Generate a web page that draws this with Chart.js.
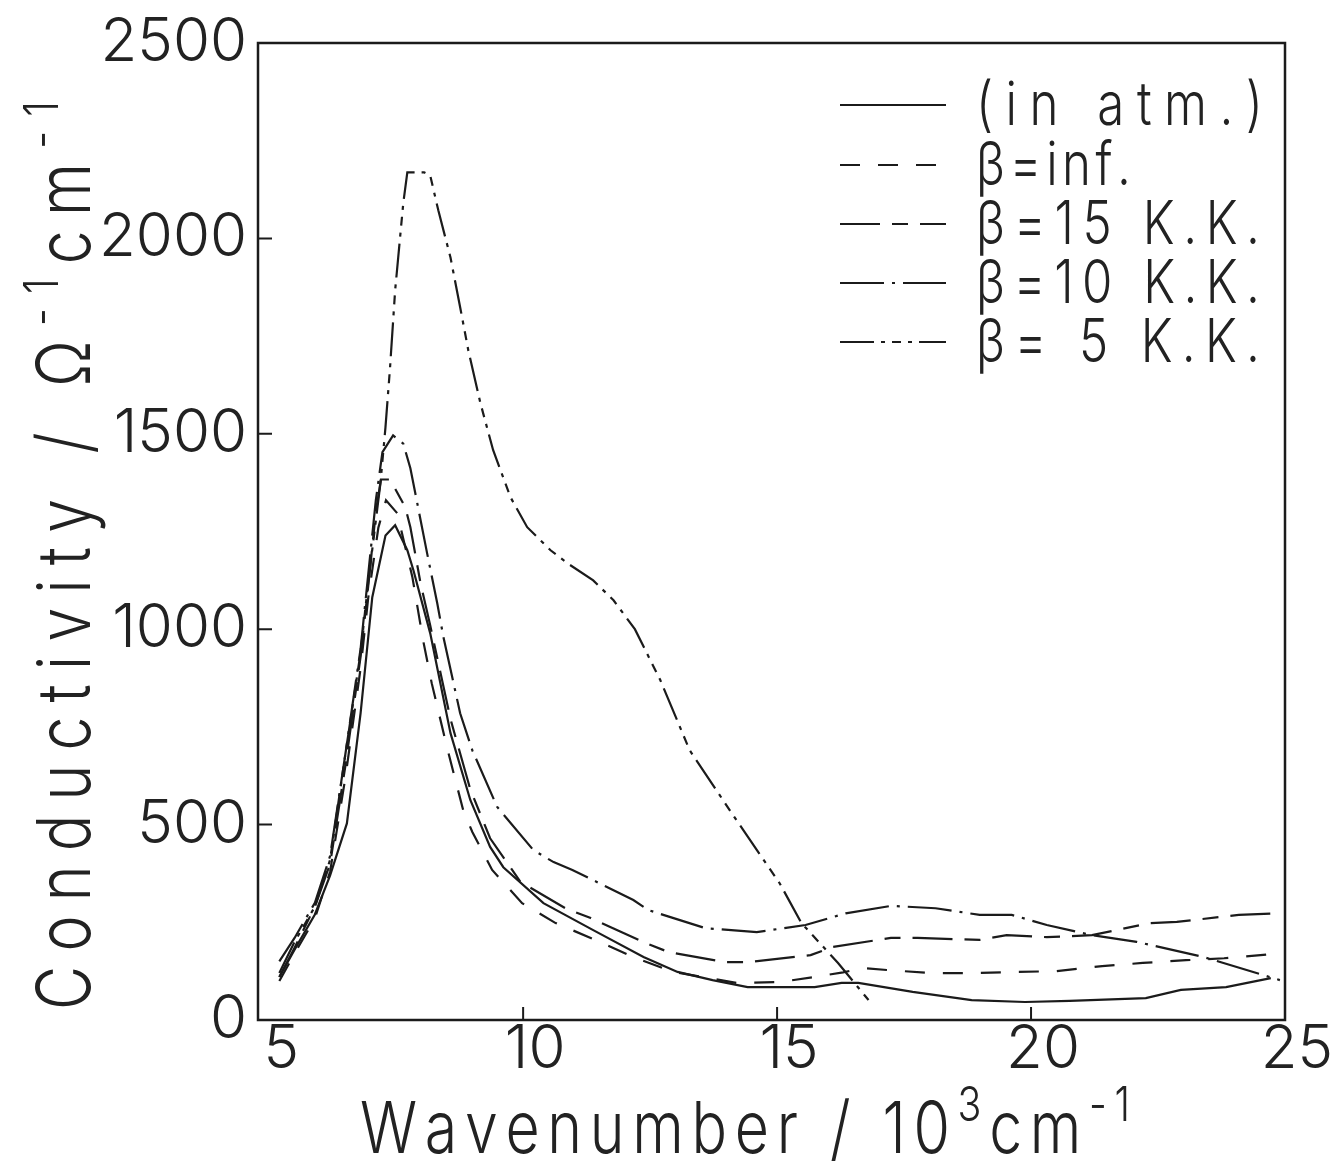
<!DOCTYPE html>
<html>
<head>
<meta charset="utf-8">
<script src="https://cdn.jsdelivr.net/npm/chart.js@4.4.1/dist/chart.umd.min.js"></script>
<style>
  html, body { margin: 0; padding: 0; background: #fff; }
  #chart { display: block; }
</style>
</head>
<body>
<canvas id="chart" width="1332" height="1163"></canvas>
<script>
// axis ticks
const xTicks = [5, 10, 15, 20, 25];
const yTicks = [0, 500, 1000, 1500, 2000, 2500];
const legendLabels = ['(in atm.)', 'β=inf.', 'β=15 K.K.', 'β=10 K.K.', 'β= 5 K.K.'];

// (in atm.) - solid
const atmX = [5.2, 5.5, 5.9, 6.2, 6.53, 6.8, 7.03, 7.29, 7.48, 7.72, 7.84, 8.17, 8.57, 8.96, 9.35, 9.61, 10.4, 11.38, 12.37, 13.04, 13.73, 14.42, 15.74, 16.27, 16.6, 17.67, 18.83, 19.88, 20.76, 22.26, 22.95, 23.84, 24.72];
const atmY = [110, 180, 270, 370, 503, 785, 1082, 1240, 1266, 1202, 1151, 990, 734, 563, 443, 391, 299, 230, 161, 123, 102, 84, 84, 95, 95, 72, 51, 46, 49, 56, 77, 84, 107];

// beta = inf.
const infX = [5.2, 5.5, 5.9, 6.2, 6.5, 6.8, 6.95, 7.15, 7.3, 7.52, 7.82, 8.03, 8.2, 8.5, 8.82, 9.0, 9.39, 9.98, 10.64, 11.42, 12.17, 12.96, 14.2, 15.05, 15.74, 16.3, 16.7, 17.16, 18.02, 18.8, 19.7, 20.5, 21.4, 22.2, 23.05, 23.8, 24.76];
const infY = [100, 170, 260, 380, 620, 900, 1080, 1260, 1330, 1297, 1133, 972, 862, 698, 537, 481, 384, 299, 248, 205, 161, 123, 95, 97, 110, 122, 133, 128, 120, 120, 123, 125, 138, 146, 153, 158, 169];

// beta = 15 K.K.
const b15X = [5.2, 5.5, 5.9, 6.2, 6.5, 6.8, 6.95, 7.1, 7.2, 7.38, 7.68, 7.78, 7.98, 8.17, 8.57, 8.96, 9.35, 9.95, 10.83, 11.33, 12.41, 12.86, 13.98, 14.42, 15.66, 16.1, 17.24, 17.77, 18.99, 19.52, 20.31, 21.2, 22.34, 22.87, 24.09, 24.9];
const b15Y = [110, 185, 290, 400, 650, 930, 1110, 1300, 1383, 1383, 1312, 1261, 1118, 1010, 770, 590, 465, 353, 286, 261, 197, 174, 148, 148, 166, 187, 210, 210, 205, 217, 212, 217, 248, 251, 269, 273];

// beta = 10 K.K.
const b10X = [5.2, 5.5, 5.9, 6.2, 6.5, 6.8, 6.95, 7.1, 7.23, 7.44, 7.64, 7.78, 8.11, 8.31, 8.43, 8.76, 9.0, 9.49, 10.2, 10.6, 10.97, 12.17, 12.47, 13.59, 14.6, 15.56, 16.35, 17.24, 18.12, 18.99, 19.62, 20.31, 21.2, 22.08, 23.4, 24.9];
const b10Y = [150, 210, 300, 420, 680, 950, 1140, 1330, 1453, 1496, 1475, 1412, 1194, 1066, 980, 785, 690, 545, 435, 404, 384, 307, 281, 235, 225, 243, 273, 292, 286, 269, 269, 243, 217, 200, 161, 102];

// beta = 5 K.K.
const b5X = [5.2, 5.5, 5.9, 6.2, 6.5, 6.8, 6.95, 7.19, 7.29, 7.38, 7.48, 7.64, 7.72, 8.05, 8.17, 8.33, 8.57, 8.76, 8.92, 9.16, 9.41, 9.75, 10.08, 10.54, 10.87, 11.38, 11.78, 12.2, 12.7, 13.28, 14.16, 15.05, 15.48, 16.2, 16.8];
const b5Y = [120, 200, 290, 410, 680, 940, 1120, 1373, 1517, 1670, 1867, 2090, 2169, 2169, 2161, 2072, 1951, 1824, 1714, 1578, 1458, 1338, 1261, 1202, 1169, 1125, 1074, 1000, 870, 690, 519, 350, 248, 146, 51];

const ink = '#1b1b1b';
const fontFamily = 'Inter, Roboto, "DejaVu Sans", sans-serif';
const dashes = [[], [20, 18], [40, 12, 16, 12], [44, 8, 3, 8], [34, 7, 4, 7, 9, 7, 4, 7]];

const pts = (xs, ys) => xs.map((x, i) => ({ x: x, y: ys[i] }));
const allData = [pts(atmX, atmY), pts(infX, infY), pts(b15X, b15Y), pts(b10X, b10Y), pts(b5X, b5Y)];

// draws text pieces (normal / superscript), letters spread to fill a target length
function drawRich(ctx, segs, x, y, target, size, supSize, raise, squeeze) {
    let natural = 0, chars = 0;
    segs.forEach(s => {
        ctx.font = `300 ${s[1] === 's' ? supSize : size}px ${fontFamily}`;
        natural += ctx.measureText(s[0]).width * squeeze;
        chars += s[0].length;
    });
    const sp = (target - natural) / (chars - 1);
    let cx = x;
    segs.forEach(s => {
        const sup = s[1] === 's';
        ctx.font = `300 ${sup ? supSize : size}px ${fontFamily}`;
        for (const ch of s[0]) {
            ctx.save();
            ctx.translate(cx, sup ? y - raise : y);
            ctx.scale(squeeze, 1);
            ctx.fillText(ch, 0, 0);
            ctx.restore();
            cx += ctx.measureText(ch).width * squeeze + sp;
        }
    });
}

const framePlugin = {
    id: 'frame',
    afterDraw(chart) {
        const { ctx, chartArea: a, scales } = chart;
        ctx.save();
        ctx.strokeStyle = ink;
        ctx.lineWidth = 2.5;
        ctx.setLineDash([]);
        ctx.strokeRect(a.left, a.top, a.right - a.left, a.bottom - a.top);
        ctx.lineWidth = 2;
        ctx.beginPath();
        yTicks.slice(1, -1).forEach(v => {
            const py = scales.y.getPixelForValue(v);
            ctx.moveTo(a.left, py); ctx.lineTo(a.left + 14, py);
        });
        xTicks.slice(1, -1).forEach(v => {
            const px = scales.x.getPixelForValue(v);
            ctx.moveTo(px, a.bottom); ctx.lineTo(px, a.bottom - 13);
        });
        ctx.stroke();

        // axis titles
        ctx.fillStyle = '#222';
        ctx.textAlign = 'left';
        ctx.textBaseline = 'alphabetic';
        drawRich(ctx, [['Wavenumber / 10', 'n'], ['3', 's'], ['cm', 'n'], ['-1', 's']],
            360, 1153, 765, 72, 48, 32, 0.82);
        ctx.save();
        ctx.translate(90, 1010);
        ctx.rotate(-Math.PI / 2);
        drawRich(ctx, [['Conductivity / Ω', 'n'], ['-1', 's'], ['cm', 'n'], ['-1', 's']],
            0, 0, 910, 74, 48, 32, 0.82);
        ctx.restore();

        // legend
        const rowY = [105, 165, 224, 283, 342];
        const rowW = [287, 152, 284, 284, 284];
        ctx.lineWidth = 2;
        legendLabels.forEach((lab, i) => {
            ctx.setLineDash(dashes[i]);
            ctx.beginPath();
            ctx.moveTo(840, rowY[i]); ctx.lineTo(946, rowY[i]);
            ctx.stroke();
            ctx.setLineDash([]);
            ctx.textBaseline = 'middle';
            drawRich(ctx, [[lab, 'n']], 976, rowY[i] + 2, rowW[i], 60, 40, 0, 0.82);
        });
        ctx.restore();
    }
};

new Chart(document.getElementById('chart'), {
    type: 'line',
    data: {
        datasets: legendLabels.map((lab, i) => ({
            label: lab,
            data: allData[i],
            borderColor: ink,
            borderWidth: 2.2,
            borderDash: dashes[i],
            pointRadius: 0,
            tension: 0,
            fill: false
        }))
    },
    options: {
        responsive: false,
        devicePixelRatio: 1,
        animation: false,
        layout: { padding: { top: 43, right: 47, left: 0, bottom: 0 } },
        plugins: { legend: { display: false }, tooltip: { enabled: false } },
        scales: {
            x: {
                type: 'linear',
                min: 4.78,
                max: 25,
                afterBuildTicks: s => { s.ticks = xTicks.map(v => ({ value: v })); },
                afterFit: s => { s.height = 143; },
                grid: { display: false },
                border: { display: false },
                ticks: {
                    color: '#222',
                    font: { family: fontFamily, size: 60, weight: 300, lineHeight: 1 },
                    padding: -8,
                    labelOffset: 12,
                    maxRotation: 0,
                    autoSkip: false,
                    callback: v => String(v)
                }
            },
            y: {
                type: 'linear',
                min: 0,
                max: 2500,
                afterBuildTicks: s => { s.ticks = yTicks.map(v => ({ value: v })); },
                afterFit: s => { s.width = 258; },
                grid: { display: false },
                border: { display: false },
                ticks: {
                    color: '#222',
                    font: { family: fontFamily, size: 60, weight: 300, lineHeight: 0.8 },
                    padding: 3,
                    autoSkip: false,
                    callback: v => String(v)
                }
            }
        }
    },
    plugins: [framePlugin]
});
</script>
</body>
</html>
